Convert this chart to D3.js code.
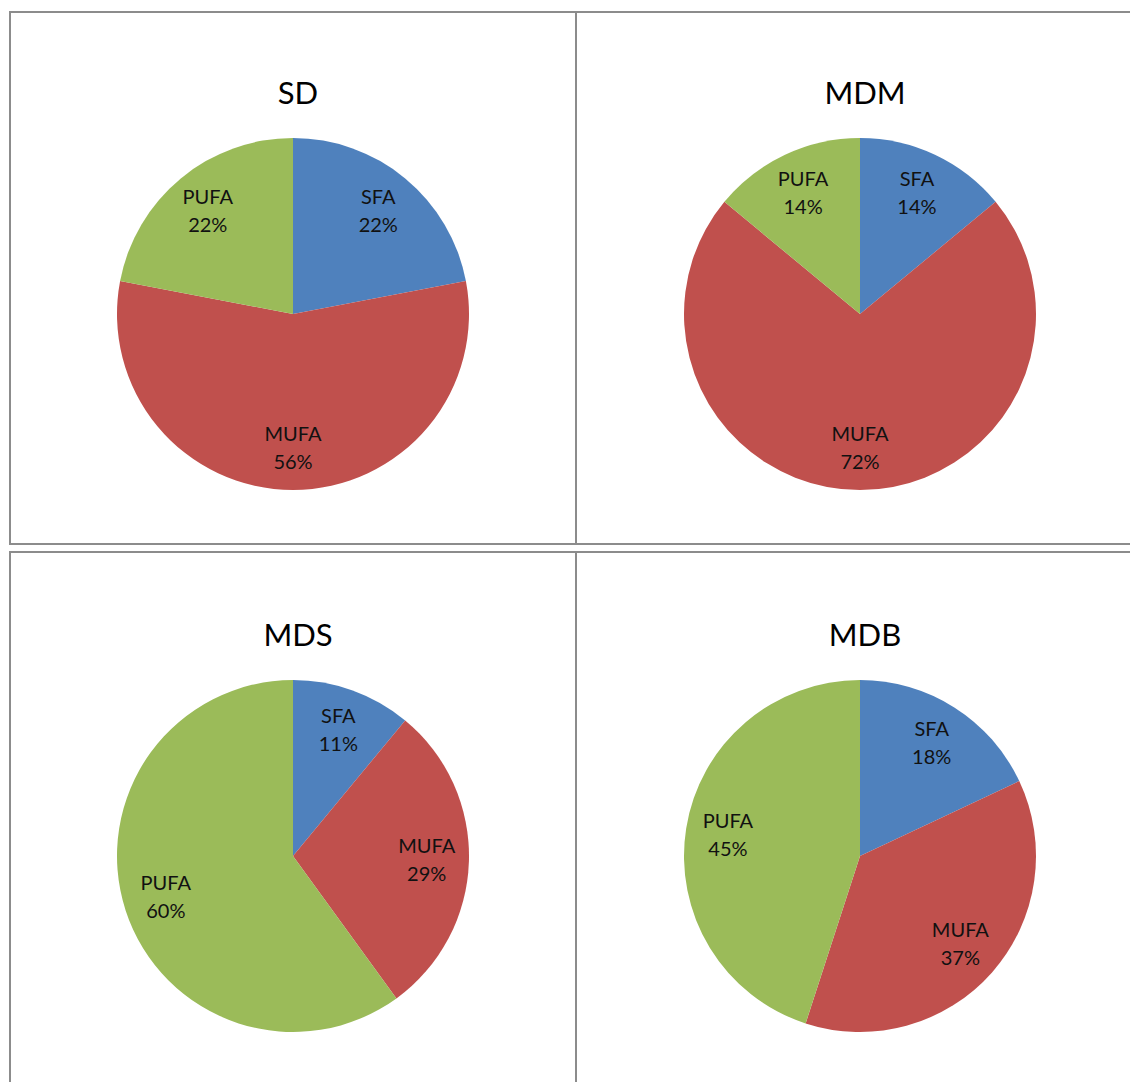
<!DOCTYPE html>
<html>
<head>
<meta charset="utf-8">
<script src="https://cdn.jsdelivr.net/npm/d3@7"></script>
<style>
  body { margin: 0; background: #fff; }
  svg { display: block; }
</style>
</head>
<body>
<div id="chart"></div>
<script>
// data
var titles = ["SD", "MDM", "MDS", "MDB"];
var categories = ["SFA", "MUFA", "PUFA"];
var sdValues = [22, 56, 22];
var mdmValues = [14, 72, 14];
var mdsValues = [11, 29, 60];
var mdbValues = [18, 37, 45];
var colors = ["#4F81BD", "#C0504D", "#9BBB59"];

var allValues = [sdValues, mdmValues, mdsValues, mdbValues];

var W = 1130, H = 1082;
var svg = d3.select("#chart").append("svg")
    .attr("width", W)
    .attr("height", H);

// panel frames
var cells = [
  {x: 10, y: 12, w: 566, h: 532},
  {x: 576, y: 12, w: 570, h: 532},
  {x: 10, y: 552, w: 566, h: 540},
  {x: 576, y: 552, w: 570, h: 540}
];
var centers = [[293, 314], [860, 314], [293, 856], [860, 856]];
var radius = 176;

svg.selectAll("rect.cell")
    .data(cells)
  .enter().append("rect")
    .attr("class", "cell")
    .attr("x", function(d) { return d.x; })
    .attr("y", function(d) { return d.y; })
    .attr("width", function(d) { return d.w; })
    .attr("height", function(d) { return d.h; })
    .attr("fill", "none")
    .attr("stroke", "#8c8c8c")
    .attr("stroke-width", 2);

var pie = d3.pie().sort(null).value(function(d) { return d; });
var arc = d3.arc().innerRadius(0).outerRadius(radius);
var labelArc = d3.arc().innerRadius(radius * 0.76).outerRadius(radius * 0.76);

allValues.forEach(function(vals, i) {
  var g = svg.append("g")
      .attr("transform", "translate(" + centers[i][0] + "," + centers[i][1] + ")");

  g.append("text")
      .attr("x", 5)
      .attr("y", -radius - 46)
      .attr("text-anchor", "middle")
      .attr("dominant-baseline", "central")
      .style("font-family", "Lato, 'Open Sans', sans-serif")
      .style("font-size", "31px")
      .text(titles[i]);

  var arcs = pie(vals);

  g.selectAll("path")
      .data(arcs)
    .enter().append("path")
      .attr("d", arc)
      .attr("fill", function(d, j) { return colors[j]; });

  var lbl = g.selectAll("text.lbl")
      .data(arcs)
    .enter().append("text")
      .attr("class", "lbl")
      .attr("transform", function(d) { return "translate(" + labelArc.centroid(d) + ")"; })
      .attr("text-anchor", "middle")
      .style("font-family", "Lato, 'Open Sans', sans-serif")
      .style("font-size", "20px")
      .attr("fill", "#111");

  lbl.append("tspan")
      .attr("x", 0)
      .attr("y", -7)
      .text(function(d, j) { return categories[j]; });
  lbl.append("tspan")
      .attr("x", 0)
      .attr("y", 21)
      .text(function(d) { return d.data + "%"; });
});
</script>
</body>
</html>
